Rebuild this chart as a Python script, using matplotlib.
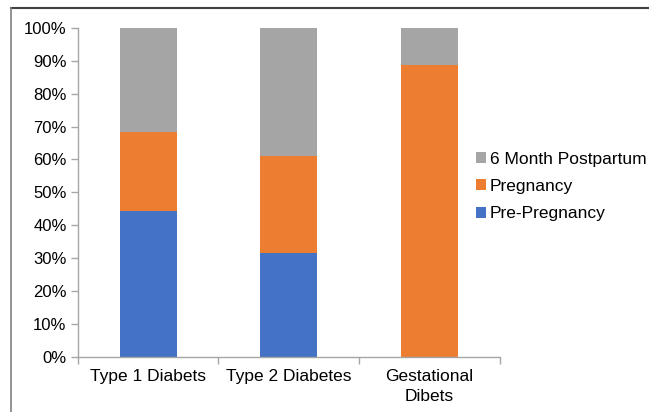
import matplotlib
matplotlib.use("Agg")
import matplotlib.pyplot as plt
from matplotlib.patches import Patch
from matplotlib.lines import Line2D
from matplotlib.ticker import PercentFormatter, FixedLocator
import numpy as np

plt.rcParams['font.family'] = ['Liberation Sans', 'DejaVu Sans']

categories = ["Type 1 Diabets", "Type 2 Diabetes", "Gestational\nDibets"]
pre_pregnancy = [44.3, 31.5, 0.0]
pregnancy = [24.1, 29.7, 88.7]
postpartum = [31.6, 38.8, 11.3]
series_names = ["Pre-Pregnancy", "Pregnancy", "6 Month Postpartum"]
colors = ["#4472C4", "#ED7D31", "#A5A5A5"]

W, H = 649, 412
fig = plt.figure(figsize=(W / 100, H / 100), dpi=100)
ax = fig.add_axes([77.7 / W, 1 - 356.7 / H, (500 - 77.7) / W, (356.7 - 28) / H])

x = np.arange(len(categories))
bw = 0.404
bottom = np.zeros(len(categories))
for vals, col in zip([pre_pregnancy, pregnancy, postpartum], colors):
    ax.bar(x, vals, bw, bottom=bottom, color=col, zorder=2)
    bottom += np.array(vals)

ax.set_xlim(-0.5, len(categories) - 0.5)
ax.set_ylim(0, 100)
ax.set_yticks(np.arange(0, 101, 10))
ax.yaxis.set_major_formatter(PercentFormatter(decimals=0))
ax.set_xticks(x)
ax.set_xticklabels(categories, fontsize=12.5, linespacing=1.4)
ax.xaxis.set_minor_locator(FixedLocator(np.arange(-0.5, len(categories), 1.0)))
ax.tick_params(axis='x', which='major', length=0, pad=9)
ax.tick_params(axis='x', which='minor', length=5, color="#A6A6A6", width=1)
ax.tick_params(axis='y', length=5, color="#A6A6A6", width=1, labelsize=12, pad=3)

for s in ["top", "right"]:
    ax.spines[s].set_visible(False)
for s in ["left", "bottom"]:
    ax.spines[s].set_color("#A6A6A6")
    ax.spines[s].set_linewidth(1)

handles = [Patch(facecolor=c) for c in colors][::-1]
labels = series_names[::-1]
fig.legend(handles, labels, loc="center left", bbox_to_anchor=(476 / W, 1 - 186.5 / H),
           frameon=False, fontsize=12.5, handlelength=0.6, handleheight=0.6,
           handletextpad=0.18, labelspacing=0.7, borderaxespad=0, borderpad=0)

# outer chart frame lines
fig.add_artist(Line2D([10.7 / W, 1.0], [1 - 8 / H, 1 - 8 / H], transform=fig.transFigure,
                      color="#404040", lw=1.5))
fig.add_artist(Line2D([10.7 / W, 10.7 / W], [0, 1 - 8 / H], transform=fig.transFigure,
                      color="#808080", lw=1.2))

fig.savefig("out.png", dpi=100)
